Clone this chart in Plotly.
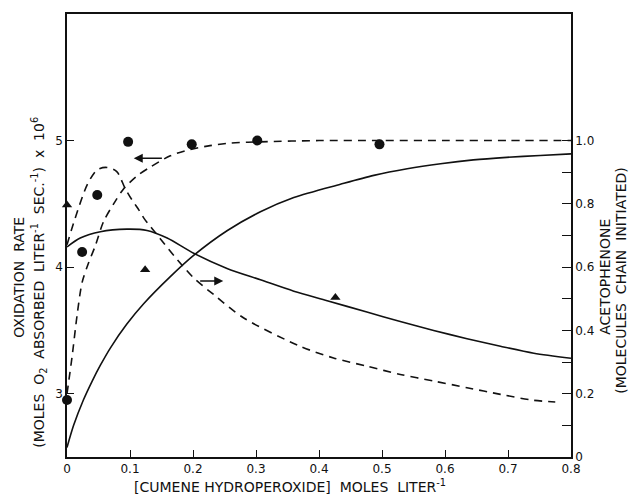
import plotly.graph_objects as go

# ---- data ----
# dashed curve, oxidation rate (left axis)
rate_curve_x = [0, 0.008, 0.016, 0.024, 0.034, 0.045, 0.058, 0.074, 0.09, 0.111, 0.132, 0.164, 0.196, 0.227, 0.26, 0.307, 0.4, 0.5, 0.6, 0.7, 0.8]
rate_curve_y = [3.0, 3.29, 3.62, 3.88, 4.03, 4.17, 4.36, 4.50, 4.62, 4.72, 4.79, 4.88, 4.93, 4.96, 4.98, 4.99, 5.0, 5.0, 5.0, 5.0, 5.0]
# circles, oxidation rate (left axis)
rate_pts_x = [0, 0.024, 0.048, 0.097, 0.198, 0.302, 0.496]
rate_pts_y = [2.95, 4.12, 4.57, 4.99, 4.97, 5.0, 4.97]
# dashed curve, acetophenone (right axis)
aceto_curve_x = [0, 0.013, 0.032, 0.048, 0.0635, 0.079, 0.092, 0.103, 0.114, 0.122, 0.148, 0.175, 0.201, 0.233, 0.28, 0.37, 0.423, 0.476, 0.529, 0.582, 0.635, 0.688, 0.741, 0.775]
aceto_curve_y = [0.671, 0.755, 0.86, 0.908, 0.915, 0.902, 0.85, 0.813, 0.781, 0.755, 0.69, 0.624, 0.566, 0.513, 0.44, 0.35, 0.313, 0.287, 0.261, 0.24, 0.219, 0.198, 0.179, 0.174]
# solid rising curve (right axis)
rise_x = [0, 0.0105, 0.026, 0.04, 0.053, 0.069, 0.095, 0.122, 0.164, 0.201, 0.254, 0.307, 0.36, 0.434, 0.487, 0.54, 0.593, 0.645, 0.698, 0.751, 0.8]
rise_y = [0.03, 0.10, 0.18, 0.24, 0.29, 0.345, 0.42, 0.485, 0.57, 0.637, 0.715, 0.775, 0.82, 0.862, 0.89, 0.911, 0.927, 0.939, 0.947, 0.953, 0.958]
# solid falling curve (left axis)
fall_x = [0, 0.021, 0.053, 0.095, 0.127, 0.159, 0.201, 0.254, 0.307, 0.36, 0.413, 0.476, 0.529, 0.582, 0.635, 0.688, 0.741, 0.8]
fall_y = [4.16, 4.23, 4.28, 4.30, 4.29, 4.23, 4.11, 3.99, 3.90, 3.81, 3.735, 3.645, 3.57, 3.50, 3.435, 3.375, 3.32, 3.28]
# triangles (left axis)
tri_x = [0, 0.124, 0.426]
tri_y = [4.49, 3.98, 3.76]

x_ticks = [0, 0.1, 0.2, 0.3, 0.4, 0.5, 0.6, 0.7, 0.8]
x_labels = ["0", "0.1", "0.2", "0.3", "0.4", "0.5", "0.6", "0.7", "0.8"]
left_ticks = [3, 4, 5]
left_labels = ["3", "4", "5"]
right_ticks = [0, 0.2, 0.4, 0.6, 0.8, 1.0]
right_labels = ["0", "0.2", "0.4", "0.6", "0.8", "1.0"]
right_minor_ticks = [0.1, 0.3, 0.5, 0.7, 0.9]

FONT = "DejaVu Sans"
BLACK = "#111111"

fig = go.Figure()
dash = "8px,6px"
fig.add_trace(go.Scatter(x=rate_curve_x, y=rate_curve_y, mode="lines",
                         line=dict(color=BLACK, width=1.6, dash=dash, shape="spline", smoothing=0.8),
                         yaxis="y", showlegend=False, hoverinfo="skip"))
fig.add_trace(go.Scatter(x=aceto_curve_x, y=aceto_curve_y, mode="lines",
                         line=dict(color=BLACK, width=1.6, dash=dash, shape="spline", smoothing=0.8),
                         yaxis="y2", showlegend=False, hoverinfo="skip"))
fig.add_trace(go.Scatter(x=rise_x, y=rise_y, mode="lines",
                         line=dict(color=BLACK, width=1.6, shape="spline", smoothing=0.8),
                         yaxis="y2", showlegend=False, hoverinfo="skip"))
fig.add_trace(go.Scatter(x=fall_x, y=fall_y, mode="lines",
                         line=dict(color=BLACK, width=1.6, shape="spline", smoothing=0.8),
                         yaxis="y", showlegend=False, hoverinfo="skip"))
fig.add_trace(go.Scatter(x=rate_pts_x, y=rate_pts_y, mode="markers",
                         marker=dict(symbol="circle", size=10, color=BLACK),
                         yaxis="y", showlegend=False, cliponaxis=False))
fig.add_trace(go.Scatter(x=tri_x, y=tri_y, mode="markers",
                         marker=dict(symbol="triangle-up", size=9, color=BLACK),
                         yaxis="y", showlegend=False, cliponaxis=False))

# arrows indicating axes
fig.add_annotation(x=0.106, y=4.86, ax=0.153, ay=4.86, xref="x", yref="y", axref="x", ayref="y",
                   showarrow=True, arrowhead=2, arrowsize=1.2, arrowwidth=1.5, arrowcolor=BLACK, text="")
fig.add_annotation(x=0.248, y=3.89, ax=0.209, ay=3.89, xref="x", yref="y", axref="x", ayref="y",
                   showarrow=True, arrowhead=2, arrowsize=1.2, arrowwidth=1.5, arrowcolor=BLACK, text="")

# The page has an 8px body margin, so the figure is sized to fit inside it.
OFF = 8
W, H = 624, 486
L = 67 - OFF
R = W - (571 - OFF)
T = 12 - OFF
B = H - (457 - OFF)
PW, PH = W - L - R, H - T - B

def px(page_x):
    return (page_x - OFF - L) / PW

def py(page_y):
    return (H - B - (page_y - OFF)) / PH

title_font = dict(family=FONT, size=14, color=BLACK)
S = "&nbsp;"
fig.add_annotation(x=px(19), y=py(277), xref="paper", yref="paper", text="OXIDATION" + S + S + "RATE",
                   textangle=-90, showarrow=False, font=title_font, xanchor="center", yanchor="middle")
fig.add_annotation(x=px(39), y=py(282), xref="paper", yref="paper",
                   text="(MOLES" + S + S + "O<sub>2</sub>" + S + S + "ABSORBED" + S + S + "LITER<sup>-1</sup>" + S + S
                        + "SEC.<sup>-1</sup>)" + S + S + "x" + S + S + "10<sup>6</sup>",
                   textangle=-90, showarrow=False, font=title_font, xanchor="center", yanchor="middle")
fig.add_annotation(x=px(605), y=py(276), xref="paper", yref="paper", text="ACETOPHENONE",
                   textangle=-90, showarrow=False, font=title_font, xanchor="center", yanchor="middle")
fig.add_annotation(x=px(621), y=py(280), xref="paper", yref="paper",
                   text="(MOLECULES" + S + S + "CHAIN" + S + S + "INITIATED)",
                   textangle=-90, showarrow=False, font=title_font, xanchor="center", yanchor="middle")
fig.add_annotation(x=px(290), y=py(486), xref="paper", yref="paper",
                   text="[CUMENE" + S + "HYDROPEROXIDE]" + S + S + "MOLES" + S + S + "LITER<sup>-1</sup>",
                   showarrow=False, font=title_font, xanchor="center", yanchor="middle")

tick_font = dict(family=FONT, size=12, color=BLACK)
fig.update_layout(
    width=W, height=H,
    margin=dict(l=L, r=R, t=T, b=B, pad=0),
    paper_bgcolor="white", plot_bgcolor="white",
    showlegend=False,
    xaxis=dict(range=[0, 0.8], tickvals=x_ticks, ticktext=x_labels, ticks="inside", ticklen=7,
               tickwidth=1.2, tickcolor=BLACK, showline=True, linecolor=BLACK, linewidth=1.6,
               mirror=True, showgrid=False, zeroline=False, tickfont=tick_font),
    yaxis=dict(range=[2.5, 6.0], tickvals=left_ticks, ticktext=left_labels, ticks="inside", ticklen=7,
               tickwidth=1.2, tickcolor=BLACK, showline=True, linecolor=BLACK, linewidth=1.6,
               showgrid=False, zeroline=False, tickfont=tick_font),
    yaxis2=dict(range=[0, 1.4], tickvals=right_ticks, ticktext=right_labels, ticks="inside", ticklen=9,
                tickwidth=1.2, tickcolor=BLACK, showline=True, linecolor=BLACK, linewidth=1.6,
                minor=dict(tickmode="array", tickvals=right_minor_ticks, ticks="inside", ticklen=9,
                           tickwidth=1.2, tickcolor=BLACK, showgrid=False),
                overlaying="y", side="right", showgrid=False, zeroline=False, tickfont=tick_font),
)

fig.write_html("out.html")
